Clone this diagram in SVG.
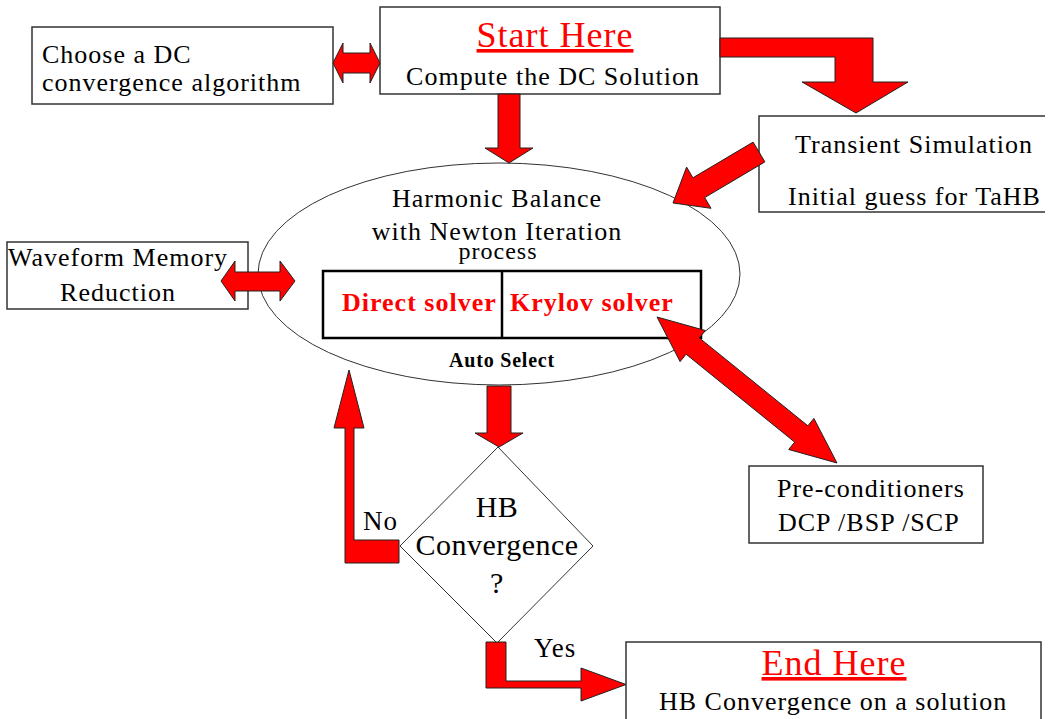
<svg xmlns="http://www.w3.org/2000/svg" width="1053" height="719" viewBox="0 0 1053 719">
<style>
.box{fill:#fff;stroke:#333;stroke-width:1.5}
.arr{fill:#ff0000;stroke:#222;stroke-width:1;stroke-linejoin:miter}
.t{font-family:"Liberation Serif","Times New Roman",serif;font-size:26px;letter-spacing:1px;fill:#000}
.c{text-anchor:middle}
.red{fill:#ff0000}
.b{font-weight:bold}
.big{font-size:36px;text-decoration:underline}
</style>
<rect width="1053" height="719" fill="#fff"/>
<g id="choose-dc">
<rect class="box" x="32" y="27" width="301" height="77"/>
<text class="t" x="42" y="63">Choose a DC</text>
<text class="t" x="42" y="91">convergence algorithm</text>
</g>
<g id="start">
<rect class="box" x="380" y="7" width="340" height="87"/>
<text class="t red big c" x="555" y="47">Start Here</text>
<text class="t c" x="553" y="85">Compute the DC Solution</text>
</g>
<g id="transient">
<rect x="759" y="116" width="286" height="96" fill="#fff"/>
<path d="M1045,116 H759 V212 H1045" fill="none" stroke="#333" stroke-width="1.5"/>
<text class="t" x="795" y="153">Transient Simulation</text>
<text class="t" x="788" y="205">Initial guess for TaHB</text>
</g>
<g id="waveform">
<rect class="box" x="7" y="242" width="241" height="67"/>
<text class="t" x="8" y="266">Waveform Memory</text>
<text class="t c" x="118" y="301">Reduction</text>
</g>
<g id="hb">
<ellipse cx="499" cy="274" rx="241" ry="111" fill="#fff" stroke="#333" stroke-width="1"/>
<text class="t c" x="497" y="207">Harmonic Balance</text>
<text class="t c" x="497" y="240">with Newton Iteration</text>
<text class="t c" x="498" y="259" style="font-size:24px">process</text>
<rect x="323" y="271" width="378" height="67" fill="#fff" stroke="#000" stroke-width="2.5"/>
<line x1="502" y1="271" x2="502" y2="338" stroke="#000" stroke-width="2.5"/>
<text class="t b red" x="342" y="311">Direct solver</text>
<text class="t b red" x="510" y="311">Krylov solver</text>
<text class="t b c" x="502" y="367" style="font-size:20px;letter-spacing:0.8px">Auto Select</text>
</g>
<g id="decision">
<polygon points="498,447 593,546 497,643 400,546" fill="#fff" stroke="#333" stroke-width="1"/>
<text class="t c" x="497" y="517" style="font-size:30px;letter-spacing:0.5px">HB</text>
<text class="t c" x="497" y="555" style="font-size:30px;letter-spacing:0.5px">Convergence</text>
<text class="t c" x="497" y="593" style="font-size:30px;letter-spacing:0.5px">?</text>
</g>
<g id="precond">
<rect class="box" x="749" y="466" width="234" height="77"/>
<text class="t" x="777" y="497">Pre-conditioners</text>
<text class="t" x="778" y="531">DCP /BSP /SCP</text>
</g>
<g id="end">
<rect class="box" x="626" y="642" width="415" height="80"/>
<text class="t red big c" x="834" y="675">End Here</text>
<text class="t" x="659" y="710">HB Convergence on a solution</text>
</g>
<g id="connectors">
<polygon class="arr" points="333,63 343,43 343,53 370,53 370,43 380,63 370,83 370,73 343,73 343,83"/>
<polygon class="arr" points="498,94 520,94 520,148 533,148 509,163 485,148 498,148"/>
<polygon class="arr" points="720,38 873,38 873,82 908,82 856,113 802,82 835,82 835,57 720,57"/>
<polygon class="arr" points="753.1,142.1 692.9,177.8 686.6,167.1 673,203 711,208.3 704.7,197.6 764.9,161.9"/>
<polygon class="arr" points="221,281 235,261 235,272 280,272 280,261 295,281 280,301 280,291 235,291 235,301"/>
<polygon class="arr" points="657,317 705.3,330.5 699.3,337.9 807.9,425.8 813.9,418.4 837,463 788.7,449.5 794.7,442.1 686.1,354.2 680.1,361.6"/>
<polygon class="arr" points="487,386 511,386 511,433 523,433 499,447 475,433 487,433"/>
<polygon class="arr" points="399,563 345,563 345,428 334,428 349,370 364,428 354,428 354,540 399,540"/>
<polygon class="arr" points="486,642 506,642 506,681 581,681 581,668 626,684.5 581,701 581,688 486,688"/>
<text class="t" x="363" y="530" style="font-size:27px">No</text>
<text class="t" x="534" y="657" style="font-size:27px">Yes</text>
</g>
</svg>
